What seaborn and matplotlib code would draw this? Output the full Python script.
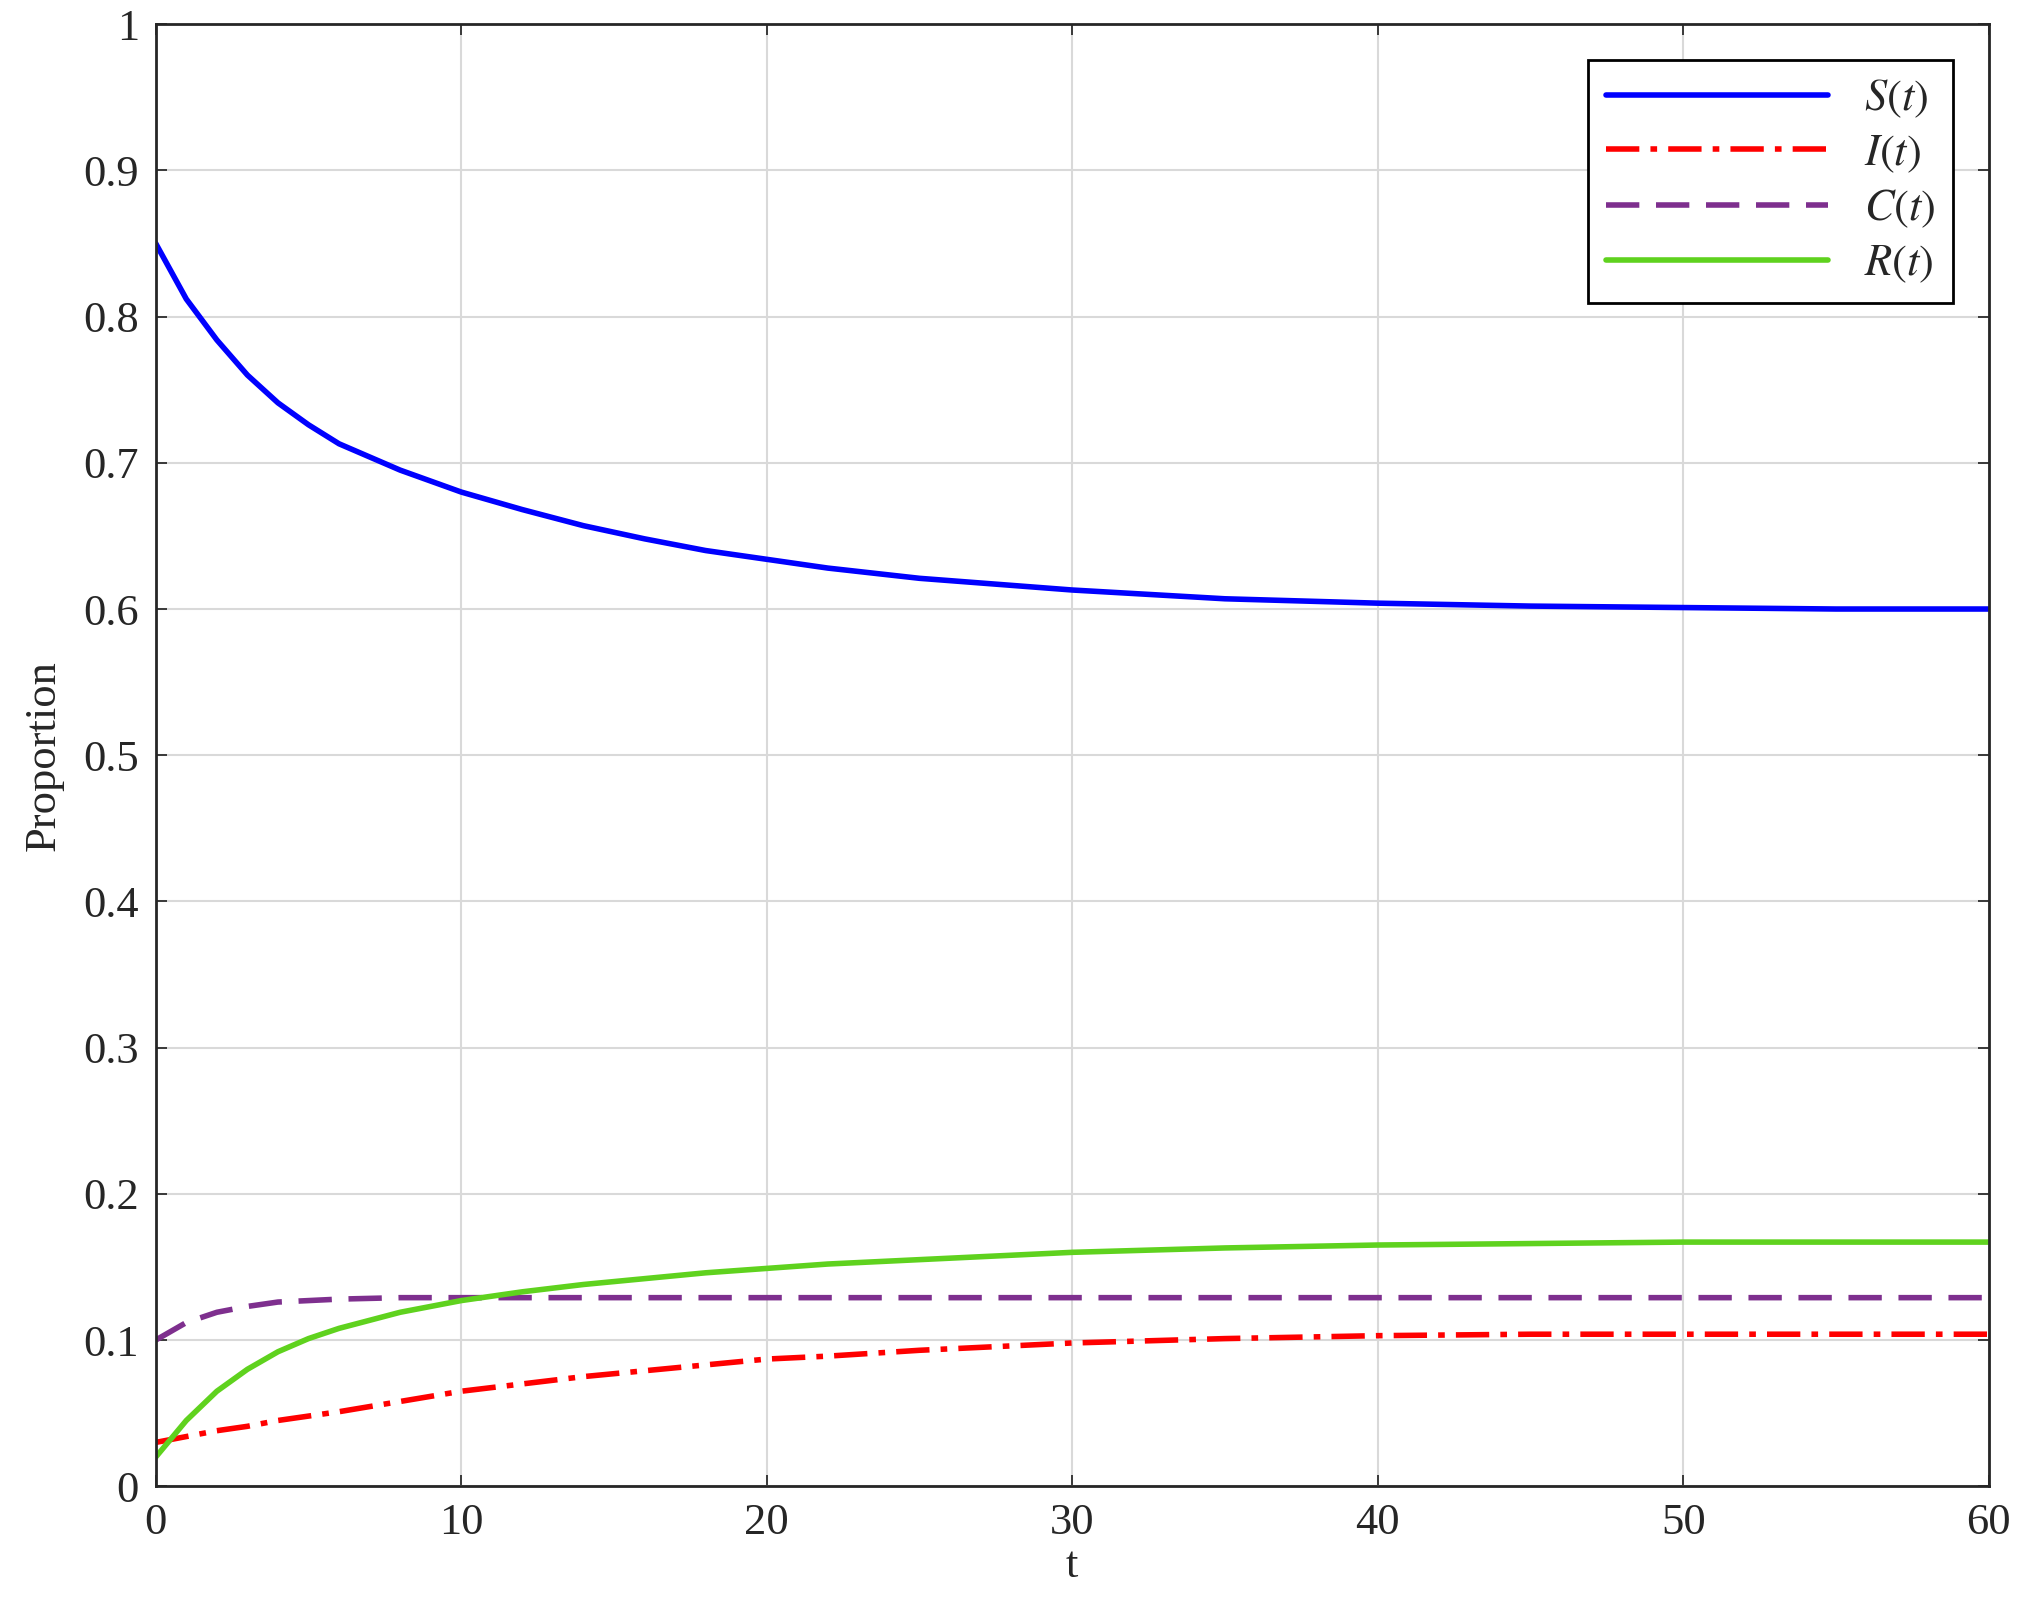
import numpy as np
import pandas as pd
import seaborn as sns
import matplotlib.pyplot as plt

t = [0, 1, 2, 3, 4, 5, 6, 8, 10, 12, 14, 16, 18, 20, 22, 25, 30, 35, 40, 45, 50, 55, 60]
S = [0.85, 0.812, 0.784, 0.760, 0.741, 0.726, 0.713, 0.695, 0.680, 0.668, 0.657, 0.648, 0.640,
     0.634, 0.628, 0.621, 0.613, 0.607, 0.604, 0.602, 0.601, 0.600, 0.600]
I = [0.030, 0.034, 0.038, 0.041, 0.045, 0.048, 0.051, 0.058, 0.065, 0.070, 0.075, 0.079, 0.083,
     0.087, 0.089, 0.093, 0.098, 0.101, 0.103, 0.104, 0.104, 0.104, 0.104]
C = [0.100, 0.112, 0.119, 0.123, 0.126, 0.127, 0.128, 0.129, 0.129, 0.129, 0.129, 0.129, 0.129,
     0.129, 0.129, 0.129, 0.129, 0.129, 0.129, 0.129, 0.129, 0.129, 0.129]
R = [0.020, 0.045, 0.065, 0.080, 0.092, 0.101, 0.108, 0.119, 0.127, 0.133, 0.138, 0.142, 0.146,
     0.149, 0.152, 0.155, 0.160, 0.163, 0.165, 0.166, 0.167, 0.167, 0.167]

sns.set_theme(style="whitegrid")
plt.rcParams['font.family'] = ['Liberation Serif', 'DejaVu Serif']
plt.rcParams['mathtext.fontset'] = 'stix'

fig, ax = plt.subplots(figsize=(20.23, 16.12), dpi=100)

series = [(S, '$S(t)$', '#0000ff', (None, None)),
          (I, '$I(t)$', '#ff0000', (6, 2, 1.2, 2)),
          (C, '$C(t)$', '#7e2f8e', (6, 3)),
          (R, '$R(t)$', '#5fd21e', (None, None))]
for vals, lab, col, dash in series:
    df = pd.DataFrame({'t': t, 'v': vals})
    sns.lineplot(data=df, x='t', y='v', ax=ax, color=col, linewidth=4, label=lab)
    if dash[0] is not None:
        ax.lines[-1].set_dashes(dash)

ax.set_xlim(0, 60)
ax.set_ylim(0, 1)
ax.set_xticks(np.arange(0, 61, 10))
ax.set_yticks(np.arange(0, 1.01, 0.1))
ax.set_yticklabels(['0', '0.1', '0.2', '0.3', '0.4', '0.5', '0.6', '0.7', '0.8', '0.9', '1'])
ax.tick_params(labelsize=32, direction='in', length=8, color='#262626', pad=12,
               top=True, right=True, bottom=True, left=True)
ax.set_xlabel('t', fontsize=32, labelpad=2)
ax.set_ylabel('Proportion', fontsize=32, labelpad=14)
ax.set_facecolor('white')
ax.grid(True, color='#d9d9d9', linewidth=1.5)
for s in ax.spines.values():
    s.set_color('#262626')
    s.set_linewidth(2)

leg = ax.legend(loc='upper right', fontsize=32, frameon=True, fancybox=False,
                edgecolor='black', framealpha=1, handlelength=5,
                borderaxespad=0.8, labelspacing=0.3)
leg.get_frame().set_linewidth(2)

fig.subplots_adjust(left=0.077, right=0.983, top=0.985, bottom=0.078)
fig.savefig('out.png', dpi=100)
